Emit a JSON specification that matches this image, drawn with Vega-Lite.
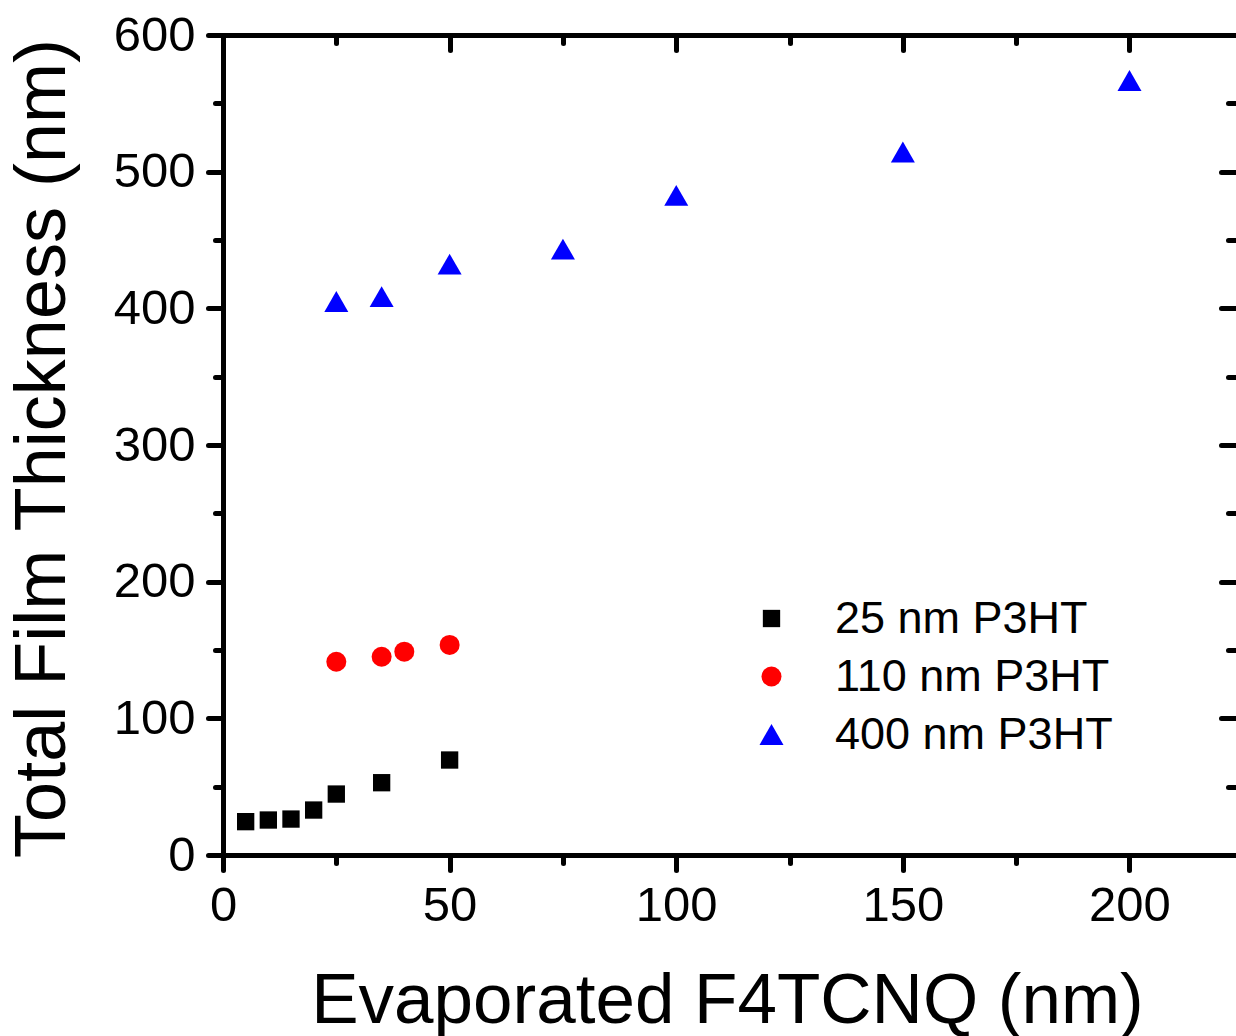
{
  "$schema": "https://vega.github.io/schema/vega-lite/v6.json",
  "autosize": {"type": "none"},
  "padding": {"left": 223, "top": 35, "right": 0, "bottom": 181},
  "width": 1013,
  "height": 820,
  "background": "white",
  "config": {
    "view": {"stroke": null},
    "font": "Liberation Sans",
    "axis": {
      "domainColor": "black",
      "domainWidth": 5,
      "domainCap": "square",
      "tickColor": "black",
      "tickWidth": 5,
      "tickCap": "round",
      "grid": false,
      "labelFont": "Liberation Sans",
      "labelFontSize": 49,
      "labelColor": "black",
      "titleFont": "Liberation Sans",
      "titleFontSize": 72,
      "titleFontWeight": "normal",
      "titleColor": "black"
    }
  },
  "data": {
    "values": [
      {"x": 5, "y": 24.4, "series": "25 nm P3HT"},
      {"x": 10, "y": 25.6, "series": "25 nm P3HT"},
      {"x": 15, "y": 26.3, "series": "25 nm P3HT"},
      {"x": 20, "y": 32.9, "series": "25 nm P3HT"},
      {"x": 25, "y": 44.6, "series": "25 nm P3HT"},
      {"x": 35, "y": 52.9, "series": "25 nm P3HT"},
      {"x": 50, "y": 69.5, "series": "25 nm P3HT"},
      {"x": 25, "y": 141.4, "series": "110 nm P3HT"},
      {"x": 35, "y": 145.1, "series": "110 nm P3HT"},
      {"x": 40, "y": 148.8, "series": "110 nm P3HT"},
      {"x": 50, "y": 153.7, "series": "110 nm P3HT"},
      {"x": 25, "y": 405, "series": "400 nm P3HT"},
      {"x": 35, "y": 408.6, "series": "400 nm P3HT"},
      {"x": 50, "y": 432.3, "series": "400 nm P3HT"},
      {"x": 75, "y": 443.4, "series": "400 nm P3HT"},
      {"x": 100, "y": 482.6, "series": "400 nm P3HT"},
      {"x": 150, "y": 514.4, "series": "400 nm P3HT"},
      {"x": 200, "y": 566.7, "series": "400 nm P3HT"}
    ]
  },
  "layer": [
    {
      "mark": {"type": "point", "filled": true, "opacity": 1, "strokeWidth": 0},
      "encoding": {
        "x": {
          "field": "x", "type": "quantitative",
          "scale": {"domain": [0, 223.5], "nice": false, "zero": false},
          "axis": {
            "orient": "bottom",
            "title": "Evaporated F4TCNQ (nm)",
            "titleFontSize": 71,
            "values": [0, 25, 50, 75, 100, 125, 150, 175, 200],
            "labelExpr": "datum.value % 50 === 0 ? datum.label : ''",
            "tickSize": {"condition": {"test": "datum.value % 50 === 0", "value": 15}, "value": 8},
            "labelPadding": 11,
            "labelFlush": false,
            "labelOverlap": false,
            "titleX": 504,
            "titleY": 167,
            "titleAnchor": null,
            "titleAlign": "center",
            "titleBaseline": "alphabetic"
          }
        },
        "y": {
          "field": "y", "type": "quantitative",
          "scale": {"domain": [0, 600], "nice": false, "zero": false},
          "axis": {
            "orient": "left",
            "title": "Total Film Thickness (nm)",
            "values": [0, 50, 100, 150, 200, 250, 300, 350, 400, 450, 500, 550, 600],
            "labelExpr": "datum.value % 100 === 0 ? datum.label : ''",
            "tickSize": {"condition": {"test": "datum.value % 100 === 0", "value": 15}, "value": 8},
            "labelPadding": 13,
            "labelFlush": false,
            "labelOverlap": false,
            "titleX": -159,
            "titleY": 413,
            "titleAngle": -90,
            "titleAlign": "center",
            "titleBaseline": "alphabetic"
          }
        },
        "color": {
          "field": "series", "type": "nominal",
          "scale": {"domain": ["25 nm P3HT", "110 nm P3HT", "400 nm P3HT"], "range": ["#000000", "#ff0000", "#0000ff"]},
          "legend": {
            "title": null,
            "orient": "none",
            "legendX": 526,
            "legendY": 561,
            "padding": 0,
            "labelFont": "Liberation Sans",
            "labelFontSize": 45,
            "labelColor": "black",
            "labelLimit": 600,
            "labelOffset": 41,
            "rowPadding": 12,
            "symbolStrokeWidth": 0
          }
        },
        "shape": {
          "field": "series", "type": "nominal",
          "scale": {"domain": ["25 nm P3HT", "110 nm P3HT", "400 nm P3HT"], "range": ["square", "circle", "triangle-up"]}
        },
        "size": {
          "field": "series", "type": "nominal",
          "scale": {"type": "ordinal", "domain": ["25 nm P3HT", "110 nm P3HT", "400 nm P3HT"], "range": [300, 400, 576]}
        }
      }
    },
    {
      "mark": {"type": "point", "opacity": 0},
      "encoding": {
        "x": {
          "field": "x", "type": "quantitative",
          "axis": {
            "orient": "top",
            "title": null,
            "labels": false,
            "values": [0, 25, 50, 75, 100, 125, 150, 175, 200],
            "tickSize": {"condition": {"test": "datum.value % 50 === 0", "value": -15}, "value": -8}
          }
        },
        "y": {
          "field": "y", "type": "quantitative",
          "axis": {
            "orient": "right",
            "title": null,
            "labels": false,
            "domain": false,
            "values": [0, 50, 100, 150, 200, 250, 300, 350, 400, 450, 500, 550, 600],
            "tickSize": {"condition": {"test": "datum.value % 100 === 0", "value": -15}, "value": -8}
          }
        }
      }
    }
  ],
  "resolve": {"axis": {"x": "independent", "y": "independent"}}
}
